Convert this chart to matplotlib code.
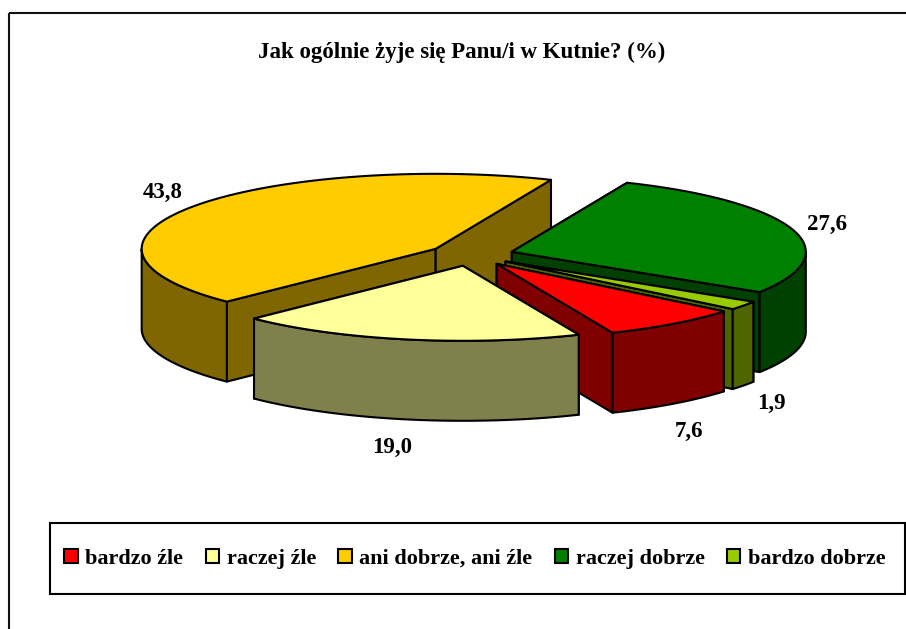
import numpy as np
import matplotlib
matplotlib.use("Agg")
import matplotlib.pyplot as plt
from matplotlib.patches import Polygon, Rectangle, Patch

# values
categories = ["bardzo źle", "raczej źle", "ani dobrze, ani źle", "raczej dobrze", "bardzo dobrze"]
values = [7.6, 19.0, 43.8, 27.6, 1.9]
value_labels = ["7,6", "19,0", "43,8", "27,6", "1,9"]
top_colors = ["#FF0000", "#FFFF99", "#FFCC00", "#008000", "#99CC00"]
side_colors = ["#800000", "#80804C", "#806600", "#004000", "#4D6600"]
title = "Jak ogólnie żyje się Panu/i w Kutnie? (%)"

# pie geometry in pixels
cx, cy = 471, 255
rx, ry = 294, 75
depth = 80
explode_x, explode_y = 42.7, 11
start_angle = -39.4  # red starts here, slices run clockwise

label_pos = [(689, 431), (392, 447), (163, 192), (827, 224), (771, 403)]

plt.rcParams["font.family"] = ["Liberation Serif", "DejaVu Serif"]
plt.rcParams["font.weight"] = "bold"

fig = plt.figure(figsize=(9.06, 6.29), dpi=100)
ax = fig.add_axes([0, 0, 1, 1])
ax.set_xlim(0, 906)
ax.set_ylim(629, 0)
ax.axis("off")

# chart frame, right and bottom sides are cut off by the image
ax.add_patch(Rectangle((8.5, 13), 1000, 800, fill=False, edgecolor="#111111", lw=1.5))


def ellipse_points(x0, y0, t1, t2, n=80):
    t = np.radians(np.linspace(t1, t2, n))
    return np.column_stack([x0 + rx * np.cos(t), y0 - ry * np.sin(t)])


def draw_slice(t_start, t_end, top, side):
    mid = np.radians((t_start + t_end) / 2)
    x0 = cx + explode_x * np.cos(mid)
    y0 = cy - explode_y * np.sin(mid)
    down = np.array([0, depth])
    apex = np.array([x0, y0])
    style = dict(edgecolor="black", lw=1.5, joinstyle="round")

    # the two cut faces
    for t in (t_start, t_end):
        p = ellipse_points(x0, y0, t, t, 1)[0]
        ax.add_patch(Polygon([apex, p, p + down, apex + down], facecolor=side, **style))

    # outer wall, only the part facing the viewer (t_start > t_end, clockwise)
    lo, hi = t_end, t_start
    for k in (-2, -1, 0):
        a = max(lo, 180 + 360 * k)
        b = min(hi, 360 + 360 * k)
        if a < b:
            rim = ellipse_points(x0, y0, a, b)
            ax.add_patch(Polygon(np.vstack([rim, (rim + down)[::-1]]), facecolor=side, **style))

    # top of the slice
    arc = ellipse_points(x0, y0, t_start, t_end)
    ax.add_patch(Polygon(np.vstack([apex, arc]), facecolor=top, **style))


# slice angles from the values
shares = np.array(values) / sum(values) * 360
ends = start_angle - np.cumsum(shares)
starts = ends + shares

# back to front
for i in [2, 3, 4, 0, 1]:
    draw_slice(starts[i], ends[i], top_colors[i], side_colors[i])

for (x, y), txt in zip(label_pos, value_labels):
    ax.text(x, y, txt, ha="center", va="center", fontsize=16.5, fontweight="bold", color="black")

ax.text(462, 52, title, ha="center", va="center", fontsize=16.5, fontweight="bold", color="black")

# legend box
ax.add_patch(Rectangle((50, 523), 855, 71, facecolor="white", edgecolor="black", lw=1.5))
handles = [Patch(facecolor=c, edgecolor="black", lw=1.5) for c in top_colors]
ax.legend(handles, categories, ncol=5, loc="center", bbox_to_anchor=(475, 559),
          bbox_transform=ax.transData, frameon=False, fontsize=16,
          handlelength=0.6, handleheight=0.6, handletextpad=0.35, columnspacing=1.0,
          borderpad=0, borderaxespad=0)

fig.savefig("out.png", dpi=100)
